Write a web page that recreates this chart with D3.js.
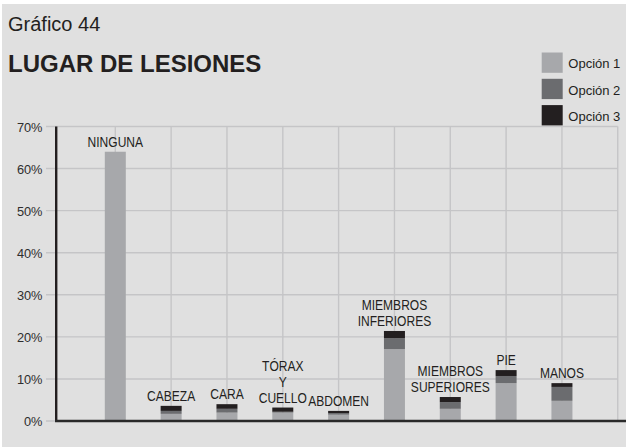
<!DOCTYPE html>
<html>
<head>
<meta charset="utf-8">
<script src="https://cdn.jsdelivr.net/npm/d3@7"></script>
<style>
  html, body { margin: 0; padding: 0; background: #ffffff; }
  svg { display: block; }
</style>
</head>
<body>
<svg id="chart" width="626" height="447"></svg>
<script>
// Injury location, stacked by answer option (percent)
const categories = ["NINGUNA", "CABEZA", "CARA", "TÓRAX Y CUELLO", "ABDOMEN",
  "MIEMBROS INFERIORES", "MIEMBROS SUPERIORES", "PIE", "MANOS"];
const labelLines = [["NINGUNA"], ["CABEZA"], ["CARA"], ["TÓRAX", "Y", "CUELLO"], ["ABDOMEN"],
  ["MIEMBROS", "INFERIORES"], ["MIEMBROS", "SUPERIORES"], ["PIE"], ["MANOS"]];
const opcion1 = [64, 1.7, 2.0, 2.0, 1.5, 17.1, 2.9, 9.0, 4.8];
const opcion2 = [0, 0.7, 0.9, 0.2, 0.4, 2.6, 1.6, 1.7, 3.3];
const opcion3 = [0, 1.2, 1.1, 1.0, 0.5, 1.7, 1.2, 1.4, 0.9];
const seriesNames = ["Opción 1", "Opción 2", "Opción 3"];
const yTicks = [0, 10, 20, 30, 40, 50, 60, 70];

const colors = ["#a7a8ab", "#6b6c6f", "#231f20"];
const gridColor = "#c5c5c7";
const textColor = "#231f20";

const svg = d3.select("#chart");

// panel background
svg.append("rect").attr("x", 2).attr("y", 4).attr("width", 624).attr("height", 443)
  .attr("fill", "#e0e0e0");

const step = 55.83;
const x = d3.scalePoint().domain(categories).range([115.3, 115.3 + step * 8]);
const y = d3.scaleLinear().domain([0, 70]).range([421, 126.5]);
const axisX = 56.2;
const gridRight = x(categories[categories.length - 1]) + step;

// horizontal gridlines with short ticks left of the axis
svg.append("g").selectAll("line").data(yTicks).join("line")
  .attr("x1", 46).attr("x2", gridRight)
  .attr("y1", d => y(d)).attr("y2", d => y(d))
  .attr("stroke", gridColor).attr("stroke-width", 1.4);

// vertical gridlines through each category and at the right edge
const vx = categories.map(c => x(c)).concat([gridRight]);
svg.append("g").selectAll("line").data(vx).join("line")
  .attr("x1", d => d).attr("x2", d => d)
  .attr("y1", y(70)).attr("y2", y(0))
  .attr("stroke", gridColor).attr("stroke-width", 1.4);

// y tick labels
svg.append("g").selectAll("text").data(yTicks).join("text")
  .attr("x", 42.5).attr("y", d => y(d) + 1)
  .attr("dy", "0.35em")
  .attr("text-anchor", "end")
  .attr("font-family", "'Liberation Sans', Arial, sans-serif")
  .attr("font-size", 12.8)
  .attr("fill", "#2e2e2e")
  .text(d => d + "%");

// stacked bars
const rows = categories.map((c, i) => ({ cat: c, o1: opcion1[i], o2: opcion2[i], o3: opcion3[i] }));
const stack = d3.stack().keys(["o1", "o2", "o3"])(rows);
const barW = 21;
svg.append("g").selectAll("g").data(stack).join("g")
  .attr("fill", (d, i) => colors[i])
  .selectAll("rect").data(d => d).join("rect")
  .attr("x", d => x(d.data.cat) - barW / 2)
  .attr("width", barW)
  .attr("y", d => y(d[1]))
  .attr("height", d => Math.max(0, y(d[0]) - y(d[1])));

// axis lines
svg.append("line").attr("x1", axisX).attr("x2", axisX)
  .attr("y1", y(70)).attr("y2", y(0) + 1)
  .attr("stroke", "#231f20").attr("stroke-width", 2.4);
svg.append("line").attr("x1", axisX - 1.2).attr("x2", 626)
  .attr("y1", y(0)).attr("y2", y(0))
  .attr("stroke", "#2a2a2a").attr("stroke-width", 2.6);

// category labels above each stack, in a condensed face (horizontally squeezed)
rows.forEach((r, i) => {
  const top = y(r.o1 + r.o2 + r.o3);
  const lines = labelLines[i];
  const t = svg.append("text")
    .attr("transform", `translate(${x(r.cat)},0) scale(0.83,1)`)
    .attr("text-anchor", "middle")
    .attr("font-family", "'Liberation Sans', Arial, sans-serif")
    .attr("font-size", 14.5)
    .attr("fill", textColor);
  lines.forEach((ln, k) => {
    t.append("tspan")
      .attr("x", 0)
      .attr("y", top - 5 - (lines.length - 1 - k) * 16)
      .text(ln);
  });
});

// titles
svg.append("text").attr("x", 8).attr("y", 31)
  .attr("font-family", "'Liberation Sans', Arial, sans-serif")
  .attr("font-size", 20).attr("fill", textColor)
  .text("Gráfico 44");
svg.append("text").attr("x", 8).attr("y", 71.5)
  .attr("font-family", "'Liberation Sans', Arial, sans-serif")
  .attr("font-weight", "bold")
  .attr("font-size", 24).attr("fill", textColor)
  .text("LUGAR DE LESIONES");

// legend
const legend = svg.append("g");
seriesNames.forEach((name, i) => {
  const ly = 52.5 + i * 26.3;
  legend.append("rect").attr("x", 541.7).attr("y", ly)
    .attr("width", 21).attr("height", 20.3).attr("fill", colors[i]);
  legend.append("text").attr("x", 568.3).attr("y", ly + 15.8)
    .attr("font-family", "'Liberation Sans', Arial, sans-serif")
    .attr("font-size", 13).attr("fill", textColor)
    .text(name);
});
</script>
</body>
</html>
